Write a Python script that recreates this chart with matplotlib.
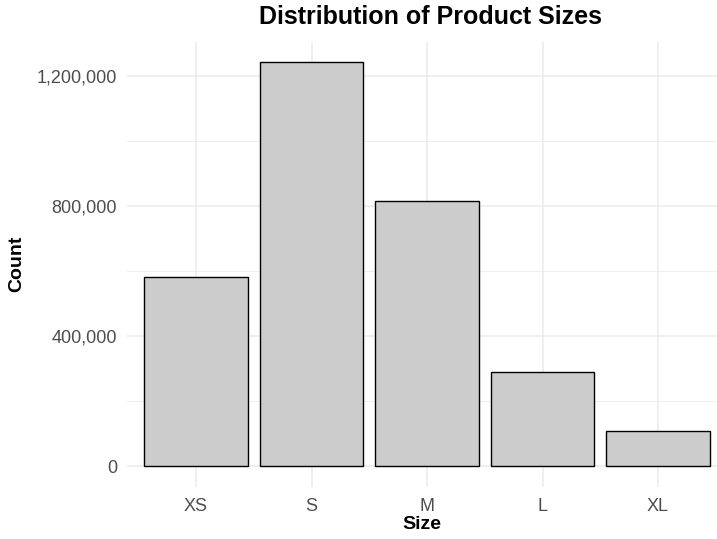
import matplotlib.pyplot as plt
from matplotlib.ticker import FuncFormatter, MultipleLocator

plt.rcParams['font.family'] = ['Liberation Sans', 'DejaVu Sans']

sizes = ["XS", "S", "M", "L", "XL"]
counts = [581000, 1242000, 816000, 291000, 109000]

fig = plt.figure(figsize=(7.17, 5.39), dpi=100)
ax = fig.add_axes([126.7 / 717, 1 - 486.7 / 539, (717 - 126.7) / 717, (486.7 - 41.8) / 539])

x = list(range(len(sizes)))
ax.bar(x, counts, width=0.9, color="#cccccc", edgecolor="black", linewidth=1.0, zorder=3)

ax.set_xlim(-0.6, (717 - 126.7) / 115.5 - 0.6)
ymax = max(counts)
ax.set_ylim(-0.05 * ymax, 1.05 * ymax)

ax.set_xticks(x)
ax.set_xticklabels(sizes)
ax.yaxis.set_major_locator(MultipleLocator(400000))
ax.yaxis.set_minor_locator(MultipleLocator(200000))
ax.yaxis.set_major_formatter(FuncFormatter(lambda v, p: f"{int(v):,}"))

ax.grid(True, which="major", color="#ebebeb", linewidth=1.1, zorder=0)
ax.grid(True, which="minor", axis="y", color="#ebebeb", linewidth=0.6, zorder=0)
for s in ax.spines.values():
    s.set_visible(False)
ax.tick_params(axis="both", which="both", length=0, labelsize=13, labelcolor="#4d4d4d")
ax.tick_params(axis="x", pad=8)
ax.tick_params(axis="y", pad=7)

ax.set_xlabel("Size", fontsize=14, fontweight="bold", labelpad=1)
ax.set_ylabel("Count", fontsize=14, fontweight="bold", labelpad=8)
fig.text(431 / 717, 1 - 17 / 539, "Distribution of Product Sizes", ha="center", va="center",
         fontsize=18, fontweight="bold")

fig.savefig("out.png", dpi=100)
